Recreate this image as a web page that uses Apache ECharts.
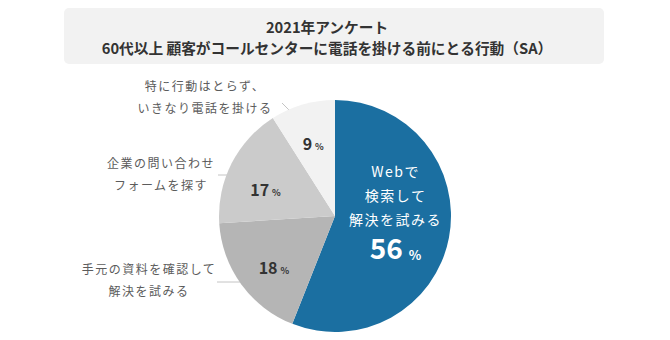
<!DOCTYPE html>
<html>
<head>
<meta charset="utf-8">
<script src="https://cdn.jsdelivr.net/npm/echarts@6/dist/echarts.min.js"></script>
<style>
  html, body { margin: 0; padding: 0; background: #ffffff; }
  #chart { width: 670px; height: 340px; }
  #chart text[style*="12px"] { letter-spacing: 1.5px; }
  #chart text[style*="14px"] { letter-spacing: 1.5px; }
</style>
</head>
<body>
<div id="chart"></div>
<script>
// ---- data ----
const titleLines = ['2021年アンケート', '60代以上 顧客がコールセンターに電話を掛ける前にとる行動（SA）'];
const categories = [
  'Webで\n検索して\n解決を試みる',
  '手元の資料を確認して\n解決を試みる',
  '企業の問い合わせ\nフォームを探す',
  '特に行動はとらず、\nいきなり電話を掛ける'
];
const values = [56, 18, 17, 9];

// ---- styles ----
const sliceColors = ['#1b6fa1', '#b5b5b5', '#cbcbcb', '#f2f2f2'];
const FONT = '"Noto Sans CJK JP", "Noto Sans", sans-serif';

// outside label placement (labels + leader lines)
const outsideLayout = {
  1: { x: 149, y: 279, line: [[217, 282], [228, 282], [240, 282]] },
  2: { x: 161, y: 173, line: [[218, 175], [228, 175], [237, 175]] },
  3: { x: 205, y: 96,  line: [[282, 103], [289, 110], [297, 117]] }
};
// small nudges of the inside value labels
const insideNudge = { 0: [-16, -21], 1: [2, 3], 2: [0, 6], 3: [0, 0] };

const chart = echarts.init(document.getElementById('chart'), null, { renderer: 'svg' });

const baseData = categories.map((c, i) => ({
  name: c,
  value: values[i],
  itemStyle: { color: sliceColors[i] }
}));

chart.setOption({
  animation: false,
  title: {
    text: titleLines.join('\n'),
    left: 322,
    top: 11,
    textAlign: 'center',
    textStyle: {
      fontFamily: FONT, fontSize: 14.7, fontWeight: 'bold', color: '#333333', lineHeight: 21
    }
  },
  graphic: [{
    type: 'rect',
    z: -10,
    shape: { x: 64, y: 8, width: 540, height: 56, r: 5 },
    style: { fill: '#f2f2f2' },
    silent: true
  }],
  series: [
    {
      type: 'pie',
      center: [335, 216],
      radius: [0, 116],
      startAngle: 90,
      clockwise: true,
      silent: true,
      avoidLabelOverlap: false,
      data: baseData.map((d, i) => Object.assign({}, d, i === 0 ? { label: { show: false }, labelLine: { show: false } } : {})),
      label: {
        show: true,
        position: 'outside',
        formatter: '{b}',
        fontFamily: FONT,
        fontSize: 12,
        color: '#5c5c5c',
        lineHeight: 22,
        align: 'center'
      },
      labelLine: { show: true, lineStyle: { color: '#c4c4c4', width: 1 } },
      labelLayout: function (p) {
        const L = outsideLayout[p.dataIndex];
        if (!L) return {};
        return { x: L.x, y: L.y, align: 'center', verticalAlign: 'middle', labelLinePoints: L.line };
      }
    },
    {
      type: 'pie',
      center: [335, 216],
      radius: [0, 150],
      startAngle: 90,
      clockwise: true,
      silent: true,
      avoidLabelOverlap: false,
      data: categories.map((c, i) => ({ name: c, value: values[i], itemStyle: { color: 'rgba(0,0,0,0)' } })),
      labelLine: { show: false },
      label: {
        show: true,
        position: 'inside',
        fontFamily: FONT,
        formatter: function (p) {
          if (p.dataIndex === 0) {
            const lines = p.name.split('\n').map(s => '{t|' + s + '}');
            return lines.join('\n') + '\n{big|' + p.value + '}{bp|%}';
          }
          return '{n|' + p.value + '}{p|%}';
        },
        rich: {
          t: { fontFamily: FONT, fontSize: 14, color: '#ffffff', lineHeight: 24, align: 'center' },
          big: { fontFamily: FONT, fontSize: 28, fontWeight: 'bold', color: '#ffffff', lineHeight: 30, verticalAlign: 'bottom' },
          bp: { fontFamily: FONT, fontSize: 13, fontWeight: 'bold', color: '#ffffff', lineHeight: 20, verticalAlign: 'bottom', padding: [0, 0, 0, 6] },
          n: { fontFamily: FONT, fontSize: 16, fontWeight: 'bold', color: '#333333', lineHeight: 20, verticalAlign: 'bottom' },
          p: { fontFamily: FONT, fontSize: 9, fontWeight: 'bold', color: '#333333', lineHeight: 13, verticalAlign: 'bottom', padding: [0, 0, 0, 3] }
        }
      },
      labelLayout: function (p) {
        const d = insideNudge[p.dataIndex] || [0, 0];
        return { dx: d[0], dy: d[1] };
      }
    }
  ]
});
</script>
</body>
</html>
